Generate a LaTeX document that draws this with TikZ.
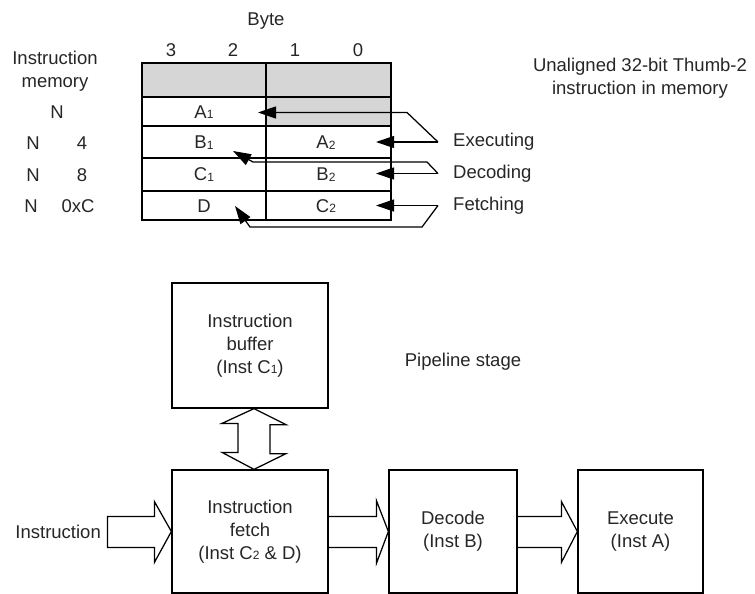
\documentclass[tikz,border=0pt]{standalone}
\usepackage{fontspec}
\setmainfont{Liberation Sans}
\usetikzlibrary{arrows.meta,calc}
\newcommand\sbs[1]{\raisebox{-0.3pt}{\fontsize{12}{12}\selectfont #1}}
\definecolor{cellgray}{HTML}{D6D6D6}
\begin{document}
\begin{tikzpicture}[x=1pt,y=-1pt,
  lw/.style={line width=1.25pt},
  txt/.style={inner sep=0pt, font=\fontsize{18.5}{23}\selectfont, text=black!85, align=center},
  box/.style={draw, lw, inner sep=0pt, font=\fontsize{18.5}{23}\selectfont, text=black!85, align=center},
  ptr/.style={lw, -{Triangle[length=18pt,width=12pt]}},
  fat/.style={draw, lw, line join=miter},
]
\useasboundingbox (0,0) rectangle (755,594);

% ---------- memory table ----------
\fill[cellgray] (142,63) rectangle (391,97);
\fill[cellgray] (266,97) rectangle (391,126);
\draw[lw] (142,63) rectangle (391,220);
\draw[lw] (266,63) -- (266,220);
\foreach \yy in {97,126,158,191} \draw[lw] (142,\yy) -- (391,\yy);

\node[txt] (byte) at (266,21) {Byte};
\node[txt] (b3) at (171,50) {3};
\node[txt] (b2) at (233,50) {2};
\node[txt] (b1) at (295,50) {1};
\node[txt] (b0) at (358,50) {0};

\node[txt] (im) at (55,71) {Instruction\\memory};
\node[txt] (n0) at (57,112) {N};
\node[txt] (n4) at (33,143) {N};
\node[txt] (o4) at (82,143) {4};
\node[txt] (n8) at (33,175) {N};
\node[txt] (o8) at (82,175) {8};
\node[txt] (nc) at (31,206) {N};
\node[txt] (oc) at (78,206) {0xC};

\node[txt] (A1) at (204,112) {A\sbs1};
\node[txt] (B1) at (204,142.5) {B\sbs1};
\node[txt] (A2) at (326,142.5) {A\sbs2};
\node[txt] (C1) at (204,174.5) {C\sbs1};
\node[txt] (B2) at (326,174.5) {B\sbs2};
\node[txt] (D)  at (204,206) {D};
\node[txt] (C2) at (326,206) {C\sbs2};

\node[txt] (ua) at (640,78) {Unaligned 32-bit Thumb-2\\instruction in memory};

% ---------- stage pointers ----------
\node[txt, anchor=west] (exe) at (453,142) {Executing};
\node[txt, anchor=west] (dec) at (453,173.5) {Decoding};
\node[txt, anchor=west] (fet) at (453,205.5) {Fetching};

\coordinate (ev) at (438,142);
\coordinate (dv) at (438,173.5);
\coordinate (fv) at (438,205.5);
\coordinate (tA1) at (258,112.5);
\coordinate (tA2) at (376,142);
\coordinate (tB1) at (233,151);
\coordinate (tB2) at (376,173.5);
\coordinate (tD)  at (235,206);
\coordinate (tC2) at (376,205.5);

\draw[ptr] (ev) -- (tA2);
\draw[ptr] (ev) -- (407,112.5) -- (tA1);
\draw[ptr] (dv) -- (tB2);
\draw[ptr] (dv) -- (427,162) -- (253,162) -- (tB1);
\draw[ptr] (fv) -- (tC2);
\draw[ptr] (fv) -- (422,227) -- (250,227) -- (tD);

% ---------- pipeline ----------
\node[box, minimum width=156pt, minimum height=125pt] (buf) at (250,345.5) {Instruction\\buffer\\(Inst C\sbs1)};
\node[box, minimum width=156pt, minimum height=123pt] (fetch) at (250,531.5) {Instruction\\fetch\\(Inst C\sbs2 \& D)};
\node[box, minimum width=128pt, minimum height=123pt] (decode) at (453,531.5) {Decode\\(Inst B)};
\node[box, minimum width=125pt, minimum height=123pt] (exec) at (640.5,531.5) {Execute\\(Inst A)};

\node[txt] (ps) at (463,362) {Pipeline stage};
\node[txt, anchor=east] (ins) at (101,532) {Instruction};

% input arrow
\draw[fat] ($(fetch.west)+(-64,-15)$) -- ($(fetch.west)+(-17,-15)$) -- ($(fetch.west)+(-17,-30)$)
  -- (fetch.west) -- ($(fetch.west)+(-17,31)$) -- ($(fetch.west)+(-17,16)$) -- ($(fetch.west)+(-64,16)$) -- cycle;
% fetch -> decode
\draw[fat] ($(fetch.east)+(0,-15)$) -- ($(decode.west)+(-12,-15)$) -- ($(decode.west)+(-12,-31)$)
  -- (decode.west) -- ($(decode.west)+(-12,32)$) -- ($(decode.west)+(-12,16)$) -- ($(fetch.east)+(0,16)$);
% decode -> execute
\draw[fat] ($(decode.east)+(0,-15)$) -- ($(exec.west)+(-16,-15)$) -- ($(exec.west)+(-16,-30)$)
  -- (exec.west) -- ($(exec.west)+(-16,31)$) -- ($(exec.west)+(-16,16)$) -- ($(decode.east)+(0,16)$);
% buffer <-> fetch
\coordinate (dt) at ($(buf.south)+(4,0)$);
\coordinate (db) at ($(fetch.north)+(4,0)$);
\draw[fat] (dt) -- ++(32,16) -- ++(-16,0) -- ++(0,29) -- ++(16,0) -- (db)
  -- ++(-32,-17) -- ++(16,0) -- ++(0,-29) -- ++(-16,0) -- cycle;
\end{tikzpicture}
\end{document}
